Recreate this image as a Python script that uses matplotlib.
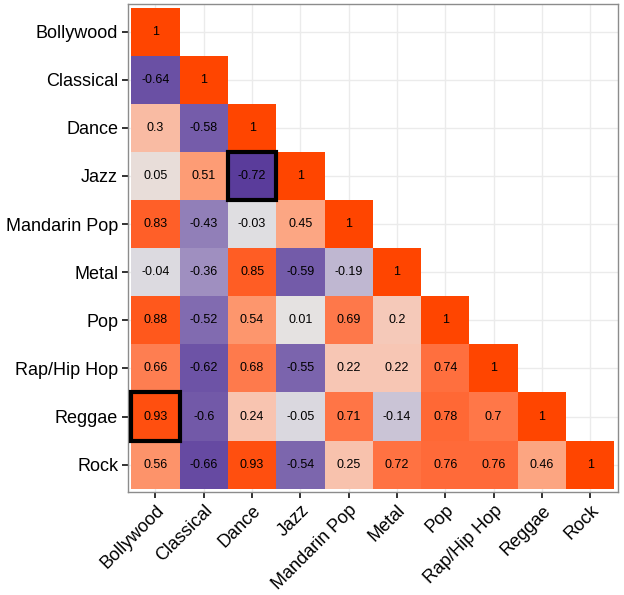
import numpy as np
import matplotlib
matplotlib.use("Agg")
import matplotlib.pyplot as plt
from matplotlib.colors import LinearSegmentedColormap
from matplotlib.patches import Rectangle

plt.rcParams['font.family'] = ['Liberation Sans', 'DejaVu Sans']

genres = ['Bollywood', 'Classical', 'Dance', 'Jazz', 'Mandarin Pop', 'Metal',
          'Pop', 'Rap/Hip Hop', 'Reggae', 'Rock']

# lower triangle, row by row
corr_rows = [
    [1],
    [-0.64, 1],
    [0.3, -0.58, 1],
    [0.05, 0.51, -0.72, 1],
    [0.83, -0.43, -0.03, 0.45, 1],
    [-0.04, -0.36, 0.85, -0.59, -0.19, 1],
    [0.88, -0.52, 0.54, 0.01, 0.69, 0.2, 1],
    [0.66, -0.62, 0.68, -0.55, 0.22, 0.22, 0.74, 1],
    [0.93, -0.6, 0.24, -0.05, 0.71, -0.14, 0.78, 0.7, 1],
    [0.56, -0.66, 0.93, -0.54, 0.25, 0.72, 0.76, 0.76, 0.46, 1],
]

# (row, column) cells drawn with a black frame
highlight = [('Jazz', 'Dance'), ('Reggae', 'Bollywood')]

n = len(genres)
mat = np.full((n, n), np.nan)
for i, row in enumerate(corr_rows):
    mat[i, :len(row)] = row

cmap = LinearSegmentedColormap.from_list('pu_or', [
    (0.0, '#2a0a80'),
    (0.14, '#5b3d9c'),
    (0.5, '#e4e4e4'),
    (0.62, '#f8c4b0'),
    (0.75, '#fd9f78'),
    (0.88, '#ff6b3a'),
    (1.0, '#ff4500'),
])

fig = plt.figure(figsize=(6.24, 5.95), dpi=100)
ax = fig.add_axes([0.205, 0.173, 0.785, 0.820])

ax.set_axisbelow(True)
ax.grid(True, color='#ebebeb', linewidth=1.0)

x = np.arange(n + 1) - 0.5
ax.pcolormesh(x, x, np.ma.masked_invalid(mat), cmap=cmap, vmin=-1, vmax=1,
              edgecolor='none', zorder=2)

for i in range(n):
    for j in range(n):
        if not np.isnan(mat[i, j]):
            ax.text(j, i, '%g' % mat[i, j], ha='center', va='center',
                    fontsize=9, color='black', zorder=3)

for r, c in highlight:
    i, j = genres.index(r), genres.index(c)
    ax.add_patch(Rectangle((j - 0.5, i - 0.5), 1, 1, fill=False,
                           edgecolor='black', linewidth=3, zorder=4))

ax.set_xlim(-0.57, n - 0.43)
ax.set_ylim(n - 0.43, -0.57)
ax.set_xticks(range(n))
ax.set_yticks(range(n))
ax.set_xticklabels(genres, rotation=45, ha='right', rotation_mode='anchor',
                   fontsize=13)
ax.set_yticklabels(genres, fontsize=13)
ax.tick_params(length=4, width=1.3, color='#222222', labelcolor='black', pad=3)
for s in ax.spines.values():
    s.set_color('#8c8c8c')
    s.set_linewidth(1.0)

fig.savefig('out.png', dpi=100)
